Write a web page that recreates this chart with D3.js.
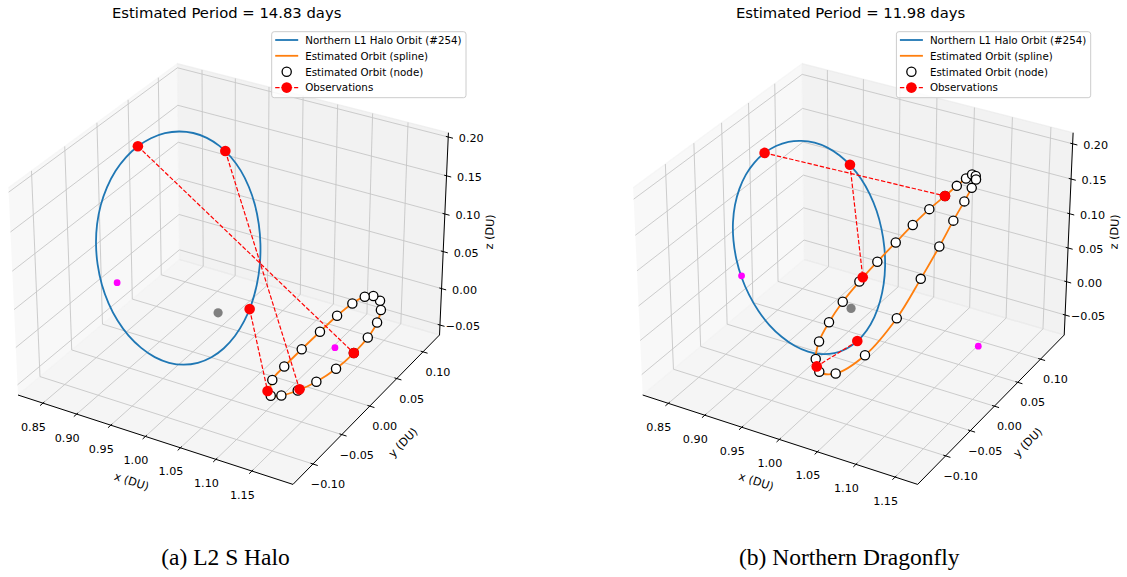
<!DOCTYPE html>
<html>
<head>
<meta charset="utf-8">
<script src="https://cdn.jsdelivr.net/npm/d3@7"></script>
<style>
  body { margin: 0; background: #fff; }
  svg { display: block; }
  text { font-family: "DejaVu Sans", sans-serif; fill: #000; }
</style>
</head>
<body>
<svg id="fig" width="1127" height="577"></svg>
<script>
// ---------------- data (CR3BP, Earth-Moon, distance units) ----------------
// Northern L1 halo orbit #254, closed, [x, y, z]
const haloOrbit = [
  [0.9962, 0.0000, -0.0458], [0.9953, 0.0201, -0.0438], [0.9925, 0.0397, -0.0378],
  [0.9879, 0.0580, -0.0282], [0.9817, 0.0746, -0.0153], [0.9741, 0.0889, 0.0005],
  [0.9653, 0.1004, 0.0185], [0.9555, 0.1090, 0.0380], [0.9451, 0.1143, 0.0585],
  [0.9344, 0.1160, 0.0791], [0.9237, 0.1143, 0.0993], [0.9133, 0.1090, 0.1184],
  [0.9035, 0.1004, 0.1361], [0.8947, 0.0889, 0.1517], [0.8871, 0.0746, 0.1649],
  [0.8809, 0.0580, 0.1754], [0.8763, 0.0397, 0.1832], [0.8735, 0.0201, 0.1878],
  [0.8726, 0.0000, 0.1894], [0.8735, -0.0201, 0.1878], [0.8763, -0.0397, 0.1832],
  [0.8809, -0.0580, 0.1754], [0.8871, -0.0746, 0.1649], [0.8947, -0.0889, 0.1517],
  [0.9035, -0.1004, 0.1361], [0.9133, -0.1090, 0.1184], [0.9237, -0.1143, 0.0993],
  [0.9344, -0.1160, 0.0791], [0.9451, -0.1143, 0.0585], [0.9555, -0.1090, 0.0380],
  [0.9653, -0.1004, 0.0185], [0.9741, -0.0889, 0.0005], [0.9817, -0.0746, -0.0153],
  [0.9879, -0.0580, -0.0282], [0.9925, -0.0397, -0.0378], [0.9953, -0.0201, -0.0438]
];

// Estimated orbit nodes, L2 S Halo case
const nodesHalo = [
  [1.0887, -0.0262, -0.0433], [1.0919, -0.0326, -0.0588], [1.1033, -0.0280, -0.0586],
  [1.1195, -0.0193, -0.0537], [1.1369, -0.0082, -0.0450], [1.1541, 0.0049, -0.0322],
  [1.1685, 0.0181, -0.0167], [1.1787, 0.0297, -0.0014], [1.1841, 0.0391, 0.0134],
  [1.1843, 0.0453, 0.0258], [1.1805, 0.0483, 0.0349], [1.1718, 0.0472, 0.0396],
  [1.1627, 0.0433, 0.0389], [1.1514, 0.0356, 0.0322], [1.1387, 0.0247, 0.0201],
  [1.1252, 0.0116, 0.0043], [1.1109, -0.0025, -0.0129], [1.0974, -0.0162, -0.0300]
];
// Observation pairs, L2 S Halo case: point on the halo orbit -> point on the estimate
const obsHaloTrue = [[0.8726, 0.0000, 0.1894], [0.9083, 0.1052, 0.1275], [0.9895, 0.0527, -0.0315]];
const obsHaloEst  = [[1.1685, 0.0181, -0.0167], [1.1211, -0.0181, -0.0525], [1.0870, -0.0322, -0.0542]];

// Estimated orbit nodes, Northern Dragonfly case
const nodesDragonfly = [
  [0.9895, -0.0646, -0.0491], [0.9823, -0.0610, -0.0353], [0.9806, -0.0520, -0.0161],
  [0.9851, -0.0391, 0.0048], [0.9929, -0.0237, 0.0271], [1.0038, -0.0071, 0.0491],
  [1.0161, 0.0100, 0.0707], [1.0290, 0.0271, 0.0916], [1.0410, 0.0428, 0.1106],
  [1.0531, 0.0575, 0.1279], [1.0650, 0.0707, 0.1422], [1.0739, 0.0807, 0.1532],
  [1.0810, 0.0883, 0.1612], [1.0859, 0.0930, 0.1656], [1.0900, 0.0942, 0.1640],
  [1.0913, 0.0928, 0.1601], [1.0894, 0.0872, 0.1510], [1.0859, 0.0779, 0.1363],
  [1.0804, 0.0644, 0.1154], [1.0738, 0.0467, 0.0872], [1.0644, 0.0241, 0.0520],
  [1.0517, -0.0042, 0.0092], [1.0305, -0.0353, -0.0312], [1.0064, -0.0573, -0.0510]
];
const obsDragonflyTrue = [[0.8726, 0.0000, 0.1894], [0.9123, 0.1083, 0.1204], [0.9962, 0.0000, -0.0458]];
const obsDragonflyEst  = [[1.0650, 0.0707, 0.1422], [1.0059, -0.0036, 0.0538], [0.9854, -0.0636, -0.0433]];

// Libration points and Moon
const librationPoints = [[0.8369, 0, 0], [1.1557, 0, 0]];
const moonPoint = [0.9878, 0, 0];

// Axis ticks and text
const xTicks = [0.85, 0.90, 0.95, 1.00, 1.05, 1.10, 1.15];
const yTicks = [-0.10, -0.05, 0.00, 0.05, 0.10];
const zTicks = [-0.05, 0.00, 0.05, 0.10, 0.15, 0.20];
const periods = [14.83, 11.98];
const captions = ["(a) L2 S Halo", "(b) Northern Dragonfly"];
const legendLabels = ["Northern L1 Halo Orbit (#254)", "Estimated Orbit (spline)",
                      "Estimated Orbit (node)", "Observations"];

// ---------------- 3D view (elev 30, azim -60, box aspect 4:4:3) ----------------
const BOX = [1.1428571, 1.1428571, 0.8571429];
const ELEV = 30, AZIM = -60, DIST = 10, K = 2757;
const view = (() => {
  const e = ELEV * Math.PI / 180, a = AZIM * Math.PI / 180;
  const w = [Math.cos(e) * Math.cos(a), Math.cos(e) * Math.sin(a), Math.sin(e)];
  const eye = BOX.map((b, i) => b / 2 + DIST * w[i]);
  const n = Math.hypot(w[1], w[0]);
  const u = [-w[1] / n, w[0] / n, 0];
  const v = [w[1] * u[2] - w[2] * u[1], w[2] * u[0] - w[0] * u[2], w[0] * u[1] - w[1] * u[0]];
  return { u, v, w, eye };
})();
const dot = (a, b) => a[0] * b[0] + a[1] * b[1] + a[2] * b[2];

const COLORS = { halo: "#1f77b4", est: "#ff7f0e", obs: "#ff0000", lib: "#ff00ff", moon: "#808080" };
const fmt = d3.format(".2f");

const panels = [
  { ox: 232.5, oy: 264.3, xlim: [0.8126, 1.2063], ylim: [-0.1337, 0.1324], zlim: [-0.0638, 0.2055],
    nodes: nodesHalo, obsTrue: obsHaloTrue, obsEst: obsHaloEst,
    title: periods[0], caption: captions[0], titleX: 226.7, captionX: 225.5, legendX: 271.7 },
  { ox: 857.2, oy: 264.3, xlim: [0.8145, 1.1785], ylim: [-0.1549, 0.1536], zlim: [-0.0804, 0.2156],
    nodes: nodesDragonfly, obsTrue: obsDragonflyTrue, obsEst: obsDragonflyEst,
    title: periods[1], caption: captions[1], titleX: 850.6, captionX: 849.3, legendX: 896.4 }
];

const svg = d3.select("#fig");

function drawPanel(cfg) {
  const g = svg.append("g");
  const sx = d3.scaleLinear().domain(cfg.xlim).range([0, BOX[0]]);
  const sy = d3.scaleLinear().domain(cfg.ylim).range([0, BOX[1]]);
  const sz = d3.scaleLinear().domain(cfg.zlim).range([0, BOX[2]]);
  const projBox = P => {
    const d = [P[0] - view.eye[0], P[1] - view.eye[1], P[2] - view.eye[2]];
    const D = -dot(view.w, d);
    return [cfg.ox + K * dot(view.u, d) / D, cfg.oy - K * dot(view.v, d) / D];
  };
  const proj = p => projBox([sx(p[0]), sy(p[1]), sz(p[2])]);
  const [X1, Y1, Z1] = BOX;
  const seg = (a, b) => d3.line()([projBox(a), projBox(b)]);

  // panes: translucent faces, outlined along three sides
  const panes = [
    { c: [[0, 0, 0], [0, Y1, 0], [0, Y1, Z1], [0, 0, Z1]], f: "rgb(242,242,242)" },
    { c: [[0, Y1, 0], [X1, Y1, 0], [X1, Y1, Z1], [0, Y1, Z1]], f: "rgb(230,230,230)" },
    { c: [[0, 0, 0], [X1, 0, 0], [X1, Y1, 0], [0, Y1, 0]], f: "rgb(236,236,236)" }
  ];
  g.selectAll("path.paneFace").data(panes).join("path").attr("class", "paneFace")
    .attr("d", p => d3.line()(p.c.map(projBox)) + "Z")
    .attr("fill", p => p.f).attr("fill-opacity", 0.5).attr("stroke", "none");
  g.selectAll("path.paneEdge").data(panes).join("path").attr("class", "paneEdge")
    .attr("d", p => d3.line()(p.c.map(projBox)))
    .attr("fill", "none").attr("stroke", p => p.f).attr("stroke-opacity", 0.5).attr("stroke-width", 1.2);

  // grid
  const grid = [];
  xTicks.forEach(t => { const X = sx(t); grid.push([[X, 0, 0], [X, Y1, 0]], [[X, Y1, 0], [X, Y1, Z1]]); });
  yTicks.forEach(t => { const Y = sy(t); grid.push([[0, Y, 0], [X1, Y, 0]], [[0, Y, 0], [0, Y, Z1]]); });
  zTicks.forEach(t => { const Z = sz(t); grid.push([[0, 0, Z], [0, Y1, Z]], [[0, Y1, Z], [X1, Y1, Z]]); });
  g.selectAll("path.grid").data(grid).join("path").attr("class", "grid")
    .attr("d", s => seg(s[0], s[1])).attr("fill", "none")
    .attr("stroke", "#c6c6c6").attr("stroke-width", 0.9);

  // axis lines
  const axes = [[[0, 0, 0], [X1, 0, 0]], [[X1, 0, 0], [X1, Y1, 0]], [[X1, Y1, 0], [X1, Y1, Z1]]];
  g.selectAll("path.axis").data(axes).join("path").attr("class", "axis")
    .attr("d", s => seg(s[0], s[1])).attr("stroke", "#000").attr("stroke-width", 1);

  // ticks + tick labels
  const dY = Y1 / 12, dX = X1 / 12;
  const tickSpecs = [];
  xTicks.forEach(t => tickSpecs.push({ a: [sx(t), -0.2 * dY, 0], b: [sx(t), 0.1 * dY, 0], at: [sx(t), 0, 0], off: [-9.5, 24], t }));
  yTicks.forEach(t => tickSpecs.push({ a: [X1 - 0.1 * dX, sy(t), 0], b: [X1 + 0.2 * dX, sy(t), 0], at: [X1, sy(t), 0], off: [15, 20.5], t }));
  zTicks.forEach(t => tickSpecs.push({ a: [X1 - 0.1 * dX, Y1, sz(t)], b: [X1 + 0.2 * dX, Y1, sz(t)], at: [X1, Y1, sz(t)], off: [23, 1.5], t }));
  g.selectAll("path.tick").data(tickSpecs).join("path").attr("class", "tick")
    .attr("d", s => seg(s.a, s.b)).attr("stroke", "#000").attr("stroke-width", 1);
  g.selectAll("text.ticklabel").data(tickSpecs).join("text").attr("class", "ticklabel")
    .attr("x", s => projBox(s.at)[0] + s.off[0])
    .attr("y", s => projBox(s.at)[1] + s.off[1])
    .attr("text-anchor", "middle").attr("dominant-baseline", "central")
    .style("font-size", "11.2px").text(s => fmt(s.t));

  // axis labels
  const axisLabels = [
    { s: axes[0], off: [-24, 42], txt: "x (DU)" },
    { s: axes[1], off: [37, 33], txt: "y (DU)" },
    { s: axes[2], off: [46, -2], txt: "z (DU)" }
  ];
  axisLabels.forEach(l => {
    const p0 = projBox(l.s[0]), p1 = projBox(l.s[1]);
    const mx = (p0[0] + p1[0]) / 2 + l.off[0], my = (p0[1] + p1[1]) / 2 + l.off[1];
    let ang = Math.atan2(p1[1] - p0[1], p1[0] - p0[0]) * 180 / Math.PI;
    if (ang > 90) ang -= 180;
    if (ang < -90) ang += 180;
    g.append("text").attr("transform", `translate(${mx},${my}) rotate(${ang})`)
      .attr("text-anchor", "middle").attr("dominant-baseline", "central")
      .style("font-size", "11.2px").text(l.txt);
  });

  const curve = d3.line().curve(d3.curveCatmullRomClosed.alpha(0.5));

  // halo orbit
  g.append("path").attr("d", curve(haloOrbit.map(proj)))
    .attr("fill", "none").attr("stroke", COLORS.halo).attr("stroke-width", 1.8);
  // estimated orbit spline through nodes
  g.append("path").attr("d", curve(cfg.nodes.map(proj)))
    .attr("fill", "none").attr("stroke", COLORS.est).attr("stroke-width", 1.8);
  // nodes
  g.selectAll("circle.node").data(cfg.nodes).join("circle").attr("class", "node")
    .attr("cx", d => proj(d)[0]).attr("cy", d => proj(d)[1]).attr("r", 4.6)
    .attr("fill", "#fff").attr("stroke", "#000").attr("stroke-width", 1.3);
  // observations
  const pairs = cfg.obsTrue.map((p, i) => [p, cfg.obsEst[i]]);
  g.selectAll("path.obs").data(pairs).join("path").attr("class", "obs")
    .attr("d", pr => d3.line()(pr.map(proj))).attr("fill", "none")
    .attr("stroke", COLORS.obs).attr("stroke-width", 1.2).attr("stroke-dasharray", "4.4,1.9");
  g.selectAll("circle.obsPt").data(pairs.flat()).join("circle").attr("class", "obsPt")
    .attr("cx", d => proj(d)[0]).attr("cy", d => proj(d)[1]).attr("r", 5.3).attr("fill", COLORS.obs);
  // libration points and Moon
  g.selectAll("circle.lib").data(librationPoints).join("circle").attr("class", "lib")
    .attr("cx", d => proj(d)[0]).attr("cy", d => proj(d)[1]).attr("r", 3.4).attr("fill", COLORS.lib);
  g.append("circle").attr("cx", proj(moonPoint)[0]).attr("cy", proj(moonPoint)[1])
    .attr("r", 4.6).attr("fill", COLORS.moon);

  // title
  g.append("text").attr("x", cfg.titleX).attr("y", 18.3).attr("text-anchor", "middle")
    .style("font-size", "14.8px").text(`Estimated Period = ${cfg.title.toFixed(2)} days`);

  // legend
  const lx = cfg.legendX, ly = 31.7;
  const lg = g.append("g");
  lg.append("rect").attr("x", lx).attr("y", ly).attr("width", 194.3).attr("height", 66)
    .attr("rx", 2.5).attr("fill", "#fff").attr("fill-opacity", 0.8)
    .attr("stroke", "#cccccc").attr("stroke-width", 1);
  const rowY = [40, 55.8, 71.7, 87.6];
  const hx0 = lx + 3.5, hx1 = lx + 26.5, hxm = (hx0 + hx1) / 2;
  lg.append("line").attr("x1", hx0).attr("x2", hx1).attr("y1", rowY[0]).attr("y2", rowY[0])
    .attr("stroke", COLORS.halo).attr("stroke-width", 1.8);
  lg.append("line").attr("x1", hx0).attr("x2", hx1).attr("y1", rowY[1]).attr("y2", rowY[1])
    .attr("stroke", COLORS.est).attr("stroke-width", 1.8);
  lg.append("circle").attr("cx", hxm).attr("cy", rowY[2]).attr("r", 4.6)
    .attr("fill", "#fff").attr("stroke", "#000").attr("stroke-width", 1.3);
  lg.append("line").attr("x1", hx0).attr("x2", hx1).attr("y1", rowY[3]).attr("y2", rowY[3])
    .attr("stroke", COLORS.obs).attr("stroke-width", 1.2).attr("stroke-dasharray", "4.4,1.9");
  lg.append("circle").attr("cx", hxm).attr("cy", rowY[3]).attr("r", 5.3).attr("fill", COLORS.obs);
  lg.selectAll("text").data(legendLabels).join("text")
    .attr("x", lx + 33.5).attr("y", (d, i) => rowY[i] + 3.8)
    .style("font-size", "10.3px").text(d => d);

  // caption
  g.append("text").attr("x", cfg.captionX).attr("y", 565).attr("text-anchor", "middle")
    .style("font-family", "'Liberation Serif', serif").style("font-size", "23.5px").text(cfg.caption);
}

panels.forEach(drawPanel);
</script>
</body>
</html>
